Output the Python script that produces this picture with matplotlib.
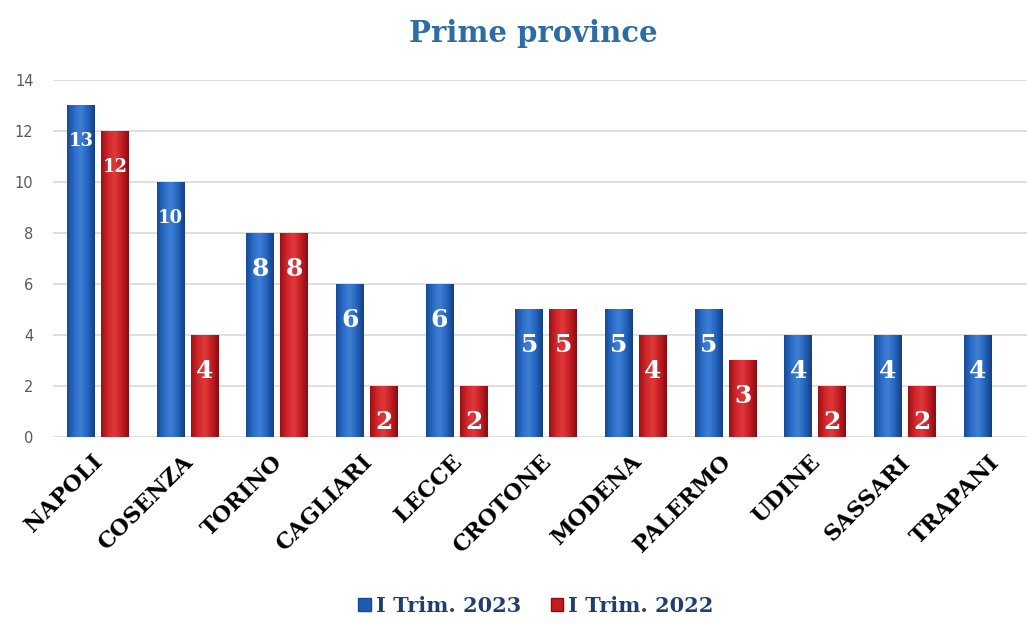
import numpy as np
import matplotlib
matplotlib.use('Agg')
import matplotlib.pyplot as plt
from matplotlib.colors import LinearSegmentedColormap
from matplotlib.patches import Patch
from matplotlib.transforms import ScaledTranslation

# data
province = ['NAPOLI', 'COSENZA', 'TORINO', 'CAGLIARI', 'LECCE', 'CROTONE',
            'MODENA', 'PALERMO', 'UDINE', 'SASSARI', 'TRAPANI']
trim_2023 = [13, 10, 8, 6, 6, 5, 5, 5, 4, 4, 4]
trim_2022 = [12, 4, 8, 2, 2, 5, 4, 3, 2, 2, 0]
series_names = ['I Trim. 2023', 'I Trim. 2022']

blue = '#1f5bb5'
red = '#c8191f'
blue_grad = LinearSegmentedColormap.from_list('b', ['#174a96', '#2a6cc8', '#3f7fd6', '#2463bd', '#133f82'])
red_grad = LinearSegmentedColormap.from_list('r', ['#9a1015', '#d2262b', '#e0393c', '#c41c21', '#8a0d12'])

fig = plt.figure(figsize=(10.27, 6.24), dpi=100)
ax = fig.add_axes([53 / 1027, 1 - 437 / 624, 1 - 53 / 1027, (437 - 80) / 624])

x = np.arange(len(province))
w = 0.31
off = 0.19
bars_a = ax.bar(x - off, trim_2023, w, color=blue, zorder=2)
bars_b = ax.bar(x + off, trim_2022, w, color=red, zorder=2)

# cylinder-like shading
grad = np.linspace(0, 1, 64).reshape(1, -1)
for bars, cm in ((bars_a, blue_grad), (bars_b, red_grad)):
    for b in bars:
        h = b.get_height()
        if h <= 0:
            continue
        x0 = b.get_x()
        ax.imshow(grad, cmap=cm, extent=[x0, x0 + b.get_width(), 0, h],
                  aspect='auto', zorder=3, interpolation='bicubic')

# value labels
for bars, vals in ((bars_a, trim_2023), (bars_b, trim_2022)):
    for b, v in zip(bars, vals):
        if v <= 0:
            continue
        ax.text(b.get_x() + b.get_width() / 2, v - 1.4, str(v), color='white',
                ha='center', va='center', family='DejaVu Serif', fontweight='bold',
                fontsize=18 if v < 10 else 13, zorder=4)

ax.set_xlim(-0.5, 10.36)
ax.set_ylim(0, 14)
ax.set_yticks(range(0, 15, 2))
ax.yaxis.grid(True, color='#d9d9d9', lw=1.2, zorder=0)
ax.set_axisbelow(True)
for s in ax.spines.values():
    s.set_visible(False)
ax.tick_params(length=0)
ax.tick_params(axis='y', labelsize=10.5, labelcolor='#595959', pad=14)
for lab in ax.get_yticklabels():
    lab.set_family('DejaVu Sans')
ax.set_xticks(x)
ax.set_xticklabels(province, rotation=45, ha='right', rotation_mode='anchor',
                   family='DejaVu Serif', fontweight='bold', fontsize=16, color='black')
ax.tick_params(axis='x', pad=10)
shift = ScaledTranslation(-6 / 100, 0, fig.dpi_scale_trans)
for lab in ax.get_xticklabels():
    lab.set_transform(lab.get_transform() + shift)

fig.text(533 / 1027, 1 - 33 / 624, 'Prime province', ha='center', va='center',
         family='DejaVu Serif', fontweight='bold', fontsize=21, color='#2e6da4')

handles = [Patch(facecolor=blue, edgecolor='#174a96'), Patch(facecolor=red, edgecolor='#8a0d12')]
fig.legend(handles, series_names, loc='center', bbox_to_anchor=(536 / 1027, 1 - 606 / 624),
           ncol=2, frameon=False, handlelength=0.6, handleheight=0.6, handletextpad=0.25,
           columnspacing=1.4, prop={'family': 'DejaVu Serif', 'weight': 'bold', 'size': 15},
           labelcolor='#1f3f6e')

fig.savefig('out.png', dpi=100)
